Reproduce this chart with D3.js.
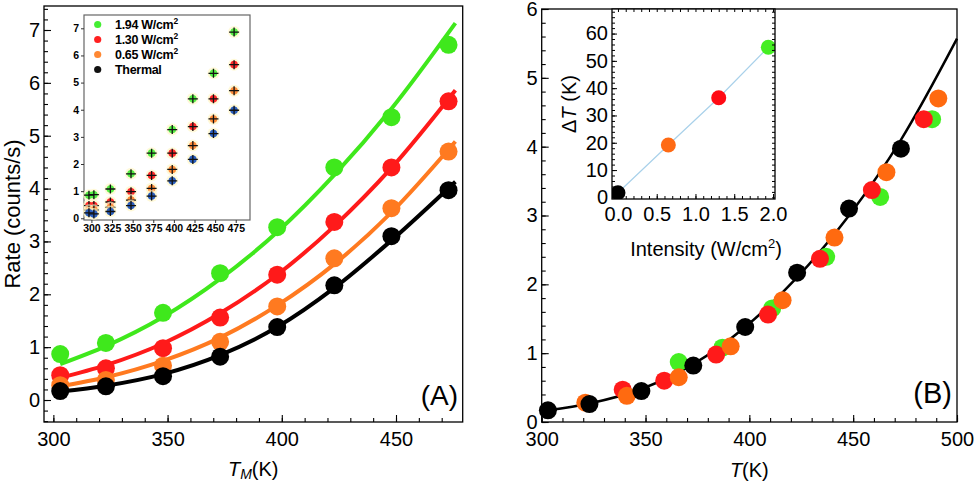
<!DOCTYPE html>
<html><head><meta charset="utf-8">
<script src="https://cdn.jsdelivr.net/npm/d3@7"></script>
<style>
body{margin:0;background:#fff}
svg{display:block}
text{font-family:"Liberation Sans",Arial,Helvetica,sans-serif;fill:#000}
</style>
</head><body>
<svg id="c" width="975" height="485"></svg>
<script>
// ---------- DATA ----------
// Panel A: measured rates vs mount temperature T_M
const tempsM = [303, 323, 348, 373, 398, 423, 448, 473];
const rateThermal = [0.17, 0.26, 0.45, 0.82, 1.38, 2.17, 3.10, 3.97];
const rate065 = [0.28, 0.38, 0.65, 1.10, 1.77, 2.68, 3.63, 4.70];
const rate130 = [0.47, 0.60, 0.98, 1.56, 2.37, 3.37, 4.40, 5.65];
const rate194 = [0.87, 1.08, 1.65, 2.40, 3.27, 4.40, 5.35, 6.72];
// fit curves of panel A
const fitTempsA = [303, 323, 348, 373, 398, 423, 448, 476];
const fitThermal = [0.16, 0.27, 0.49, 0.85, 1.38, 2.12, 3.02, 4.13];
const fit065 = [0.26, 0.43, 0.74, 1.18, 1.79, 2.57, 3.55, 4.89];
const fit130 = [0.42, 0.66, 1.07, 1.64, 2.37, 3.29, 4.39, 5.86];
const fit194 = [0.68, 1.02, 1.57, 2.29, 3.18, 4.26, 5.51, 7.13];
// inset of panel A
const insetTemps = [297, 303, 323, 348, 373, 398, 423, 448, 473];
const insetThermal = [0.20, 0.16, 0.25, 0.47, 0.82, 1.38, 2.17, 3.12, 3.98];
const inset065 = [0.30, 0.30, 0.40, 0.67, 1.10, 1.80, 2.68, 3.66, 4.70];
const inset130 = [0.47, 0.47, 0.60, 0.98, 1.58, 2.40, 3.38, 4.40, 5.66];
const inset194 = [0.85, 0.87, 1.08, 1.64, 2.40, 3.27, 4.40, 5.34, 6.86];
const legendLabels = ["1.94 W/cm\u00b2", "1.30 W/cm\u00b2", "0.65 W/cm\u00b2", "Thermal"];
const xTicksA = [300, 350, 400, 450];
const yTicksA = [0, 1, 2, 3, 4, 5, 6, 7];
const insetXTicks = [300, 325, 350, 375, 400, 425, 450, 475];
const insetYTicks = [0, 1, 2, 3, 4, 5, 6, 7];
// Panel B: rates vs actual temperature T
const tempsBThermal = [303, 323, 348, 373, 398, 423, 448, 473];
const tempsB065 = [321, 341, 366, 391, 416, 441, 466, 491];
const tempsB130 = [339, 359, 384, 409, 434, 459, 484];
const tempsB194 = [366, 387, 411, 437, 463, 488];
const fitTempsB = [303, 323, 348, 373, 398, 423, 448, 473, 500];
const fitRateB = [0.17, 0.27, 0.48, 0.84, 1.38, 2.10, 3.00, 4.10, 5.57];
const xTicksB = [300, 350, 400, 450, 500];
const yTicksB = [0, 1, 2, 3, 4, 5, 6];
// inset of panel B
const intensity = [0, 0.65, 1.30, 1.94];
const deltaT = [1.7, 19.2, 36.5, 55];
const insetBXTicks = [0, 0.5, 1.0, 1.5, 2.0];
const insetBYTicks = [0, 10, 20, 30, 40, 50, 60];

// ---------- COLOURS ----------
const cGreen = "#3fe81c", cRed = "#ff1a1a", cOrange = "#ff7a20", cBlack = "#000";

const svg = d3.select("#c");
const FONT = 20;
const fmtInt = d3.format("d");

function minorRange(a, b, s) { return d3.range(Math.round(a / s), Math.round(b / s) + 1).map(v => +(v * s).toFixed(6)); }

function drawFrame(g, P, xS, yS, xMaj, yMaj, xMinStep, yMinStep) {
  const xd = xS.domain(), yd = yS.domain();
  const xMin = minorRange(Math.ceil(xd[0] / xMinStep) * xMinStep, Math.floor(xd[1] / xMinStep) * xMinStep, xMinStep);
  const yMin = minorRange(Math.ceil(yd[0] / yMinStep) * yMinStep, Math.floor(yd[1] / yMinStep) * yMinStep, yMinStep);
  g.append("g").attr("transform", `translate(0,${P.b})`)
    .call(d3.axisBottom(xS).tickValues(xMin).tickSize(-4).tickFormat(""))
    .call(s => s.select(".domain").remove());
  g.append("g").attr("transform", `translate(0,${P.b})`)
    .call(d3.axisBottom(xS).tickValues(xMaj).tickSize(-7).tickPadding(10).tickFormat(fmtInt))
    .call(s => s.select(".domain").remove());
  g.append("g").attr("transform", `translate(${P.l},0)`)
    .call(d3.axisLeft(yS).tickValues(yMin).tickSize(-4).tickFormat(""))
    .call(s => s.select(".domain").remove());
  g.append("g").attr("transform", `translate(${P.l},0)`)
    .call(d3.axisLeft(yS).tickValues(yMaj).tickSize(-7).tickPadding(4).tickFormat(fmtInt))
    .call(s => s.select(".domain").remove());
  g.selectAll(".tick line").attr("stroke", "#000").attr("stroke-width", 1.1);
  g.selectAll(".tick text").attr("font-size", FONT).attr("font-family", "Liberation Sans, Arial, sans-serif").attr("fill", "#000");
  g.append("rect").attr("x", P.l).attr("y", P.t).attr("width", P.r - P.l).attr("height", P.b - P.t)
    .attr("fill", "none").attr("stroke", "#000").attr("stroke-width", 1.3);
}

// ---------- PANEL A ----------
const A = {l: 44, r: 462.7, t: 6, b: 422};
const xA = d3.scaleLinear([295.9, 479.2], [A.l, A.r]);
const yA = d3.scaleLinear([-0.416, 7.454], [A.b, A.t]);
const gA = svg.append("g");
drawFrame(gA, A, xA, yA, xTicksA, yTicksA, 10, 0.2);

const lineA = d3.line().x(d => xA(d[0])).y(d => yA(d[1])).curve(d3.curveMonotoneX);
const seriesA = [
  {fit: fit194, pts: rate194, c: cGreen},
  {fit: fit130, pts: rate130, c: cRed},
  {fit: fit065, pts: rate065, c: cOrange},
  {fit: fitThermal, pts: rateThermal, c: cBlack}
];
seriesA.forEach(s => {
  gA.append("path").attr("d", lineA(fitTempsA.map((t, i) => [t, s.fit[i]])))
    .attr("fill", "none").attr("stroke", s.c).attr("stroke-width", 4);
  gA.selectAll(null).data(tempsM.map((t, i) => [t, s.pts[i]])).join("circle")
    .attr("cx", d => xA(d[0])).attr("cy", d => yA(d[1])).attr("r", 9).attr("fill", s.c);
});

gA.append("text").attr("x", 458).attr("y", 405).attr("text-anchor", "end").attr("font-size", 28).text("(A)");

const tA = gA.append("text").attr("x", xA(387.5)).attr("y", 476).attr("text-anchor", "middle").attr("font-size", FONT);
tA.append("tspan").attr("font-style", "italic").text("T");
tA.append("tspan").attr("font-style", "italic").attr("font-size", 14).attr("dy", 3).text("M");
tA.append("tspan").attr("dy", -3).text("(K)");
gA.append("text").attr("transform", `translate(20,214) rotate(-90)`).attr("text-anchor", "middle")
  .attr("font-size", 22).text("Rate (counts/s)");

// ---------- INSET A ----------
const IA = {l: 84, r: 250, t: 15, b: 220};
const xIA = d3.scaleLinear([291, 492.3], [IA.l, IA.r]);
const yIA = d3.scaleLinear([-0.063, 7.49], [IA.b, IA.t]);
const gI = svg.append("g");
gI.append("rect").attr("x", IA.l).attr("y", IA.t).attr("width", IA.r - IA.l).attr("height", IA.b - IA.t)
  .attr("fill", "#fff").attr("stroke", "#666").attr("stroke-width", 1.2);
gI.append("g").attr("transform", `translate(0,${IA.b})`)
  .call(d3.axisBottom(xIA).tickValues(insetXTicks).tickSize(3).tickPadding(2).tickFormat(fmtInt))
  .call(s => s.select(".domain").remove());
gI.append("g").attr("transform", `translate(${IA.l},0)`)
  .call(d3.axisLeft(yIA).tickValues(insetYTicks).tickSize(3).tickPadding(2).tickFormat(fmtInt))
  .call(s => s.select(".domain").remove());
gI.selectAll(".tick line").attr("stroke", "#333");
gI.selectAll(".tick text").attr("font-size", 10.5).attr("font-weight", "bold").attr("fill", "#111")
  .attr("font-family", "Liberation Sans, Arial, sans-serif");

const insetSeries = [
  {v: inset194, c: "#55ee44"},
  {v: inset130, c: "#ff2a2a"},
  {v: inset065, c: "#ff8c3a"},
  {v: insetThermal, c: "#2b5fbf"}
];
insetSeries.forEach(s => {
  const pts = insetTemps.map((t, i) => [t, s.v[i]]);
  gI.selectAll(null).data(pts).join("circle")
    .attr("cx", d => xIA(d[0])).attr("cy", d => yIA(d[1])).attr("r", 6).attr("fill", "#fff6c8").attr("opacity", 0.7);
  gI.selectAll(null).data(pts).join("circle")
    .attr("cx", d => xIA(d[0])).attr("cy", d => yIA(d[1])).attr("r", 3.8).attr("fill", s.c);
  gI.selectAll(null).data(pts).join("path")
    .attr("d", d => { const x = xIA(d[0]), y = yIA(d[1]); return `M${x - 5},${y}H${x + 5}M${x},${y - 4.5}V${y + 4.5}`; })
    .attr("stroke", "#111").attr("stroke-width", 1.3);
});
const legendColors = ["#44ee33", "#ff2020", "#ff8833", "#111"];
const legendY = [24.5, 39.5, 54.5, 69.5];
legendLabels.forEach((lab, i) => {
  gI.append("circle").attr("cx", 97.7).attr("cy", legendY[i]).attr("r", 3.6).attr("fill", legendColors[i]);
  const t = gI.append("text").attr("x", 115).attr("y", legendY[i] + 4.5).attr("font-size", 12.5).attr("font-weight", "bold")
    .attr("letter-spacing", -0.3);
  if (lab.indexOf("\u00b2") >= 0) {
    t.append("tspan").text(lab.replace("\u00b2", ""));
    t.append("tspan").attr("font-size", 8.5).attr("dy", -5).text("2");
  } else t.text(lab);
});

// ---------- PANEL B ----------
const B = {l: 541.7, r: 957, t: 9, b: 422};
const xB = d3.scaleLinear([300, 500], [B.l, B.r]);
const yB = d3.scaleLinear([0, 6], [B.b, B.t]);
const gB = svg.append("g");
drawFrame(gB, B, xB, yB, xTicksB, yTicksB, 10, 0.2);

const lineB = d3.line().x(d => xB(d[0])).y(d => yB(d[1])).curve(d3.curveMonotoneX);
gB.append("path").attr("d", lineB(fitTempsB.map((t, i) => [t, fitRateB[i]])))
  .attr("fill", "none").attr("stroke", "#000").attr("stroke-width", 2.5);
const seriesB = [
  {t: tempsB194, v: rate194, c: "#44ee22"},
  {t: tempsB130, v: rate130, c: "#ff1a1a"},
  {t: tempsB065, v: rate065, c: "#ff6a10"},
  {t: tempsBThermal, v: rateThermal, c: "#000"}
];
seriesB.forEach(s => {
  gB.selectAll(null).data(s.t.map((t, i) => [t, s.v[i]])).join("circle")
    .attr("cx", d => xB(d[0])).attr("cy", d => yB(d[1])).attr("r", 9).attr("fill", s.c);
});
gB.append("text").attr("x", 952).attr("y", 403).attr("text-anchor", "end").attr("font-size", 29).text("(B)");
const tB = gB.append("text").attr("x", xB(400)).attr("y", 477).attr("text-anchor", "middle").attr("font-size", FONT);
tB.append("tspan").attr("font-style", "italic").text("T");
tB.append("tspan").text("(K)");

// ---------- INSET B ----------
const IB = {l: 612, r: 775, t: 9, b: 199};
const xIB = d3.scaleLinear([-0.077, 2.026], [IB.l, IB.r]);
const yIB = d3.scaleLinear([-0.6, 69], [IB.b, IB.t]);
const gJ = svg.append("g");
gJ.append("rect").attr("x", IB.l).attr("y", IB.t).attr("width", IB.r - IB.l).attr("height", IB.b - IB.t).attr("fill", "#fff");
gJ.append("clipPath").attr("id", "clipIB").append("rect")
  .attr("x", IB.l).attr("y", IB.t).attr("width", IB.r - IB.l).attr("height", IB.b - IB.t);
const gJc = gJ.append("g").attr("clip-path", "url(#clipIB)");
gJc.append("path").attr("d", d3.line().x(d => xIB(d[0])).y(d => yIB(d[1]))(intensity.map((x, i) => [x, deltaT[i]])))
  .attr("fill", "none").attr("stroke", "#a9d1ea").attr("stroke-width", 1.2);
const insetBColors = ["#000", "#ff6a14", "#ff0a14", "#44ee22"];
gJc.selectAll(null).data(intensity.map((x, i) => [x, deltaT[i], insetBColors[i]])).join("circle")
  .attr("cx", d => xIB(d[0])).attr("cy", d => yIB(d[1])).attr("r", 7.5).attr("fill", d => d[2]);

const ibxMinor = minorRange(0, 2.0, 0.1);
const ibyMinor = minorRange(0, 68, 2);
gJ.append("g").attr("transform", `translate(0,${IB.b})`)
  .call(d3.axisBottom(xIB).tickValues(ibxMinor).tickSize(-3).tickFormat("")).call(s => s.select(".domain").remove());
gJ.append("g").attr("transform", `translate(0,${IB.b})`)
  .call(d3.axisBottom(xIB).tickValues(insetBXTicks).tickSize(-5).tickPadding(8).tickFormat(d3.format(".1f")))
  .call(s => s.select(".domain").remove());
gJ.append("g").attr("transform", `translate(0,${IB.t})`)
  .call(d3.axisTop(xIB).tickValues(ibxMinor).tickSize(-3).tickFormat("")).call(s => s.select(".domain").remove());
gJ.append("g").attr("transform", `translate(${IB.l},0)`)
  .call(d3.axisLeft(yIB).tickValues(ibyMinor).tickSize(-3).tickFormat("")).call(s => s.select(".domain").remove());
gJ.append("g").attr("transform", `translate(${IB.l},0)`)
  .call(d3.axisLeft(yIB).tickValues(insetBYTicks).tickSize(-5).tickPadding(4).tickFormat(fmtInt))
  .call(s => s.select(".domain").remove());
gJ.append("g").attr("transform", `translate(${IB.r},0)`)
  .call(d3.axisRight(yIB).tickValues(ibyMinor).tickSize(-3).tickFormat("")).call(s => s.select(".domain").remove());
gJ.selectAll(".tick line").attr("stroke", "#000").attr("stroke-width", 1);
gJ.selectAll(".tick text").attr("font-size", 20).attr("fill", "#000").attr("font-family", "Liberation Sans, Arial, sans-serif");
gJ.append("rect").attr("x", IB.l).attr("y", IB.t).attr("width", IB.r - IB.l).attr("height", IB.b - IB.t)
  .attr("fill", "none").attr("stroke", "#000").attr("stroke-width", 1.3);
const tJ = gJ.append("text").attr("transform", "translate(576,104) rotate(-90)").attr("text-anchor", "middle").attr("font-size", 20);
tJ.append("tspan").text("\u0394");
tJ.append("tspan").attr("font-style", "italic").text("T");
tJ.append("tspan").text(" (K)");
const tJx = gJ.append("text").attr("x", 706).attr("y", 256).attr("text-anchor", "middle").attr("font-size", 20);
tJx.append("tspan").text("Intensity (W/cm");
tJx.append("tspan").attr("font-size", 13).attr("dy", -8).text("2");
tJx.append("tspan").attr("dy", 8).text(")");
</script>
</body></html>
